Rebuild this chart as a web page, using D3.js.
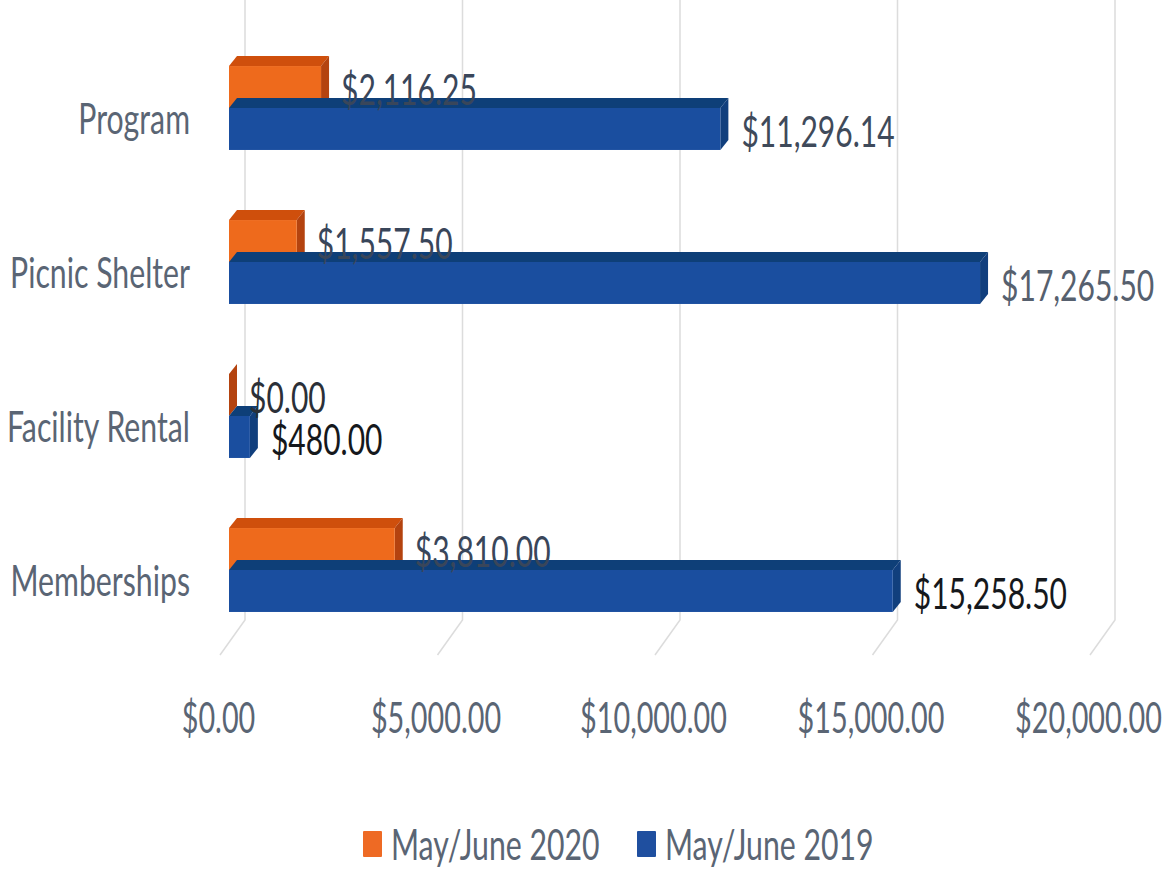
<!DOCTYPE html>
<html>
<head>
<meta charset="utf-8">
<script src="https://cdnjs.cloudflare.com/ajax/libs/d3/7.8.5/d3.min.js"></script>
<style>
	html, body { margin: 0; padding: 0; background: #fff; }
	svg { display: block; }
	text { font-family: Lato, "Open Sans", sans-serif; }
</style>
</head>
<body>
<div id="chart-area"></div>
<script>

// Data
let categories = ["Program", "Picnic Shelter", "Facility Rental", "Memberships"];
let seriesNames = ["May/June 2020", "May/June 2019"];
let values2020 = [2116.25, 1557.50, 0, 3810.00];
let values2019 = [11296.14, 17265.50, 480.00, 15258.50];
let tickValues = [0, 5000, 10000, 15000, 20000];
let labelColors2020 = ["#39465a", "#39465a", "#2b3038", "#39465a"];
let labelColors2019 = ["#3f4a5a", "#56606e", "#15181c", "#15181c"];

let width = 1173, height = 869;
let depthX = 8, depthY = 10;
let fontSize = 42;

let svg = d3.select("#chart-area").append("svg")
	.attr("width", width)
	.attr("height", height);

let formatMoney = d3.format("$,.2f");

// The original is a squeezed scan, so narrow the text to the same width
function condense(selection, k) {
	selection.each(function() {
		let natural = this.getComputedTextLength();
		d3.select(this)
			.attr("textLength", natural * k)
			.attr("lengthAdjust", "spacingAndGlyphs");
	});
}

// Scales
let x = d3.scaleLinear()
	.domain([0, 20000])
	.range([229, 1099]);

let y = d3.scaleBand()
	.domain(categories)
	.range([31, 647])
	.paddingInner(0.455)
	.paddingOuter(0.2275);

let ySeries = d3.scaleBand()
	.domain(seriesNames)
	.range([0, y.bandwidth()]);

let faces = {
	"May/June 2020": {front: "#ee6a1c", top: "#cf4f0c", side: "#b4430f"},
	"May/June 2019": {front: "#1a4e9f", top: "#0e3f78", side: "#113f7d"}
};

// Gridlines, back wall then down across the floor
let gridLine = d3.line();
svg.append("g").selectAll("path")
	.data(tickValues)
	.enter().append("path")
	.attr("d", d => gridLine([
		[x(d) + 16, 0],
		[x(d) + 16, 620],
		[x(d) - 9, 655]
	]))
	.attr("fill", "none")
	.attr("stroke", "#dcdcdc")
	.attr("stroke-width", 1.5);

// X axis labels
let xAxis = d3.axisBottom(x)
	.tickValues(tickValues)
	.tickFormat(formatMoney)
	.tickSize(0);

let xAxisGroup = svg.append("g")
	.attr("class", "x-axis axis")
	.attr("transform", "translate(-11,700)")
	.call(xAxis);

xAxisGroup.select(".domain").remove();
xAxisGroup.selectAll("text")
	.attr("font-size", fontSize)
	.attr("fill", "#5a6574")
	.style("font-family", 'Lato, "Open Sans", sans-serif')
	.call(condense, 0.685);

// Category labels
let yAxis = d3.axisLeft(y)
	.tickSize(0);

let yAxisGroup = svg.append("g")
	.attr("class", "y-axis axis")
	.attr("transform", "translate(190,13)")
	.call(yAxis);

yAxisGroup.select(".domain").remove();
yAxisGroup.selectAll("text")
	.attr("x", 0)
	.attr("font-size", fontSize)
	.attr("fill", "#5a6574")
	.style("font-family", 'Lato, "Open Sans", sans-serif')
	.call(condense, 0.72);

// Bars, 2019 sits in front of the 2020 one
function drawBars(name, values) {
	let f = faces[name];
	let g = svg.append("g").attr("class", "bars");

	categories.forEach((c, i) => {
		let x0 = x(0), x1 = x(values[i]);
		let y0 = y(c) + ySeries(name), y1 = y0 + ySeries.bandwidth();

		g.append("path")
			.attr("d", d3.line()([[x0, y0], [x0 + depthX, y0 - depthY], [x1 + depthX, y0 - depthY], [x1, y0]]))
			.attr("fill", f.top);
		g.append("path")
			.attr("d", d3.line()([[x1, y0], [x1 + depthX, y0 - depthY], [x1 + depthX, y1 - depthY], [x1, y1]]))
			.attr("fill", f.side);
		g.append("rect")
			.attr("x", x0)
			.attr("y", y0)
			.attr("width", x1 - x0)
			.attr("height", y1 - y0)
			.attr("fill", f.front);
	});
}

drawBars(seriesNames[0], values2020);
drawBars(seriesNames[1], values2019);

// Value labels
function drawLabels(name, values, colors, size, gap) {
	svg.append("g").selectAll("text")
		.data(categories)
		.enter().append("text")
		.attr("x", (c, i) => x(values[i]) + depthX + gap)
		.attr("y", c => y(c) + ySeries(name) + ySeries.bandwidth() / 2 + 3)
		.attr("dy", "0.35em")
		.attr("font-size", size)
		.attr("fill", (c, i) => colors[i])
		.text((c, i) => formatMoney(values[i]))
		.call(condense, 0.715);
}

drawLabels(seriesNames[0], values2020, labelColors2020, fontSize, 12);
drawLabels(seriesNames[1], values2019, labelColors2019, fontSize, 13);

// Legend
let legend = svg.append("g").attr("class", "legend");
let legendX = d3.scaleOrdinal().domain(seriesNames).range([363, 637]);

seriesNames.forEach(name => {
	legend.append("rect")
		.attr("x", legendX(name))
		.attr("y", 831)
		.attr("width", 19)
		.attr("height", 26)
		.attr("rx", 1)
		.attr("fill", name === seriesNames[0] ? "#ee6a24" : "#1f4f9f");
	legend.append("text")
		.attr("x", legendX(name) + 28)
		.attr("y", 845)
		.attr("dy", "0.35em")
		.attr("font-size", fontSize)
		.attr("fill", "#5a6574")
		.text(name)
		.call(condense, 0.72);
});

</script>
</body>
</html>
